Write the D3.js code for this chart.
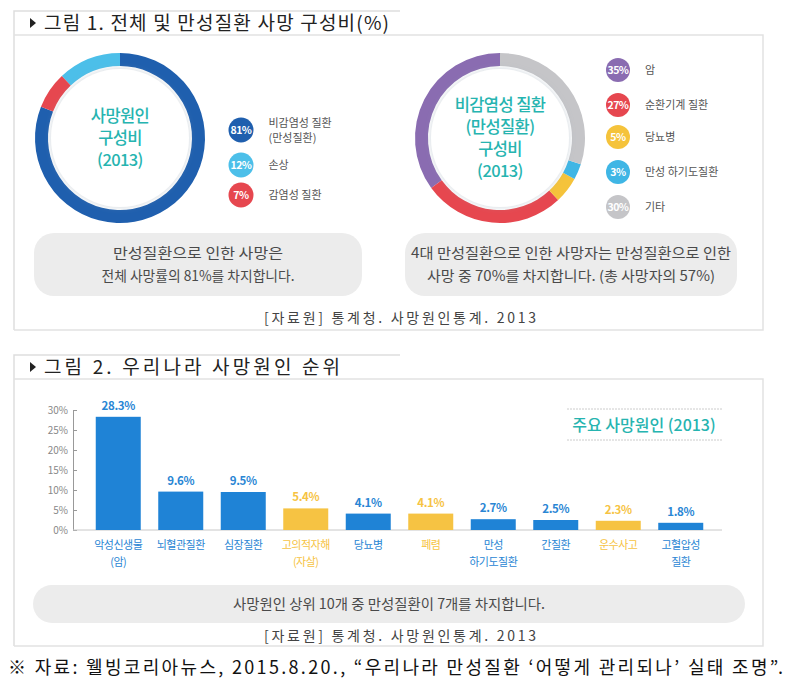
<!DOCTYPE html>
<html><head><meta charset="utf-8">
<script src="https://cdn.jsdelivr.net/npm/d3@7"></script>
<style>
body{margin:0;background:#fff;}
svg{display:block;font-family:"Noto Sans CJK KR","Noto Sans",sans-serif;}
</style></head>
<body><svg id="c" width="791" height="700"></svg>
<script>
// ---- data ----
const donut1Labels = [["비감염성 질환","(만성질환)"],["손상"],["감염성 질환"]];
const donut1Values = [81, 12, 7];
const donut1Colors = ["#1f5fae", "#4cbfe9", "#e6474f"];
const donut1DrawOrder = [0, 2, 1];
const donut1Center = ["사망원인","구성비","(2013)"];

const donut2Labels = [["암"],["순환기계 질환"],["당뇨병"],["만성 하기도질환"],["기타"]];
const donut2Values = [35, 27, 5, 3, 30];
const donut2Colors = ["#8a6cb1", "#e6474f", "#f5c33b", "#3fb6e5", "#c5c5c8"];
const donut2DrawOrder = [4, 3, 2, 1, 0];
const donut2Center = ["비감염성 질환","(만성질환)","구성비","(2013)"];

const barCategories = [["악성신생물","(암)"],["뇌혈관질환"],["심장질환"],["고의적자해","(자살)"],["당뇨병"],["폐렴"],["만성","하기도질환"],["간질환"],["운수사고"],["고혈압성","질환"]];
const barValues = [28.3, 9.6, 9.5, 5.4, 4.1, 4.1, 2.7, 2.5, 2.3, 1.8];
const barChronic = [true, true, true, false, true, false, true, true, false, true];
const yTicks = [0, 5, 10, 15, 20, 25, 30];

const svg = d3.select("#c");
const BLUE = "#1f83d6", YEL = "#f6c343", TEAL = "#26b4b0", GRAYTXT = "#555";

// shadow filter
const defs = svg.append("defs");
const f = defs.append("filter").attr("id","sh").attr("x","-30%").attr("y","-30%").attr("width","160%").attr("height","160%");
f.append("feGaussianBlur").attr("in","SourceAlpha").attr("stdDeviation",3).attr("result","b");
f.append("feFlood").attr("flood-color","#8fa0b0").attr("flood-opacity",0.45);
f.append("feComposite").attr("in2","b").attr("operator","in").attr("result","s");
const fm = f.append("feMerge"); fm.append("feMergeNode").attr("in","s"); fm.append("feMergeNode").attr("in","SourceGraphic");

// ---- frames ----
function frame(top, titleBottom, bottom, title, tw){
  const g = svg.append("g");
  g.append("path").attr("d",`M14,${bottom} L14,${top} L400,${top}`).attr("fill","none").attr("stroke","#dedede").attr("stroke-width",1.5);
  g.append("path").attr("d",`M14,${titleBottom} L763,${titleBottom} L763,${bottom} L14,${bottom}`).attr("fill","none").attr("stroke","#e2e2e2").attr("stroke-width",1.5);
  g.append("path").attr("d",`M30,${(top+titleBottom)/2-5} L36,${(top+titleBottom)/2} L30,${(top+titleBottom)/2+5}Z`).attr("fill","#222");
  g.append("text").attr("x",44).attr("y",(top+titleBottom)/2+7).attr("font-size",19).attr("fill","#222")
    .attr("textLength",tw).attr("lengthAdjust","spacing").text(title);
}
frame(11, 35, 330, "그림 1. 전체 및 만성질환 사망 구성비(%)", 345);
frame(355, 379, 646, "그림 2. 우리나라 사망원인 순위", 296);

// ---- donuts ----
function donut(cx, cy, values, colors, order, centerLines, lineGap){
  const g = svg.append("g").attr("transform",`translate(${cx},${cy})`);
  const pie = d3.pie().value(i=>values[i]).sort((a,b)=>order.indexOf(a)-order.indexOf(b));
  const arc = d3.arc().innerRadius(72).outerRadius(85);
  g.selectAll("path.s").data(pie(d3.range(values.length))).join("path").attr("class","s")
    .attr("d",arc).attr("fill",d=>colors[d.data]);
  g.append("circle").attr("r",69).attr("fill","#fff").attr("filter","url(#sh)");
  const n = centerLines.length;
  g.selectAll("text.c").data(centerLines).join("text").attr("class","c")
    .attr("text-anchor","middle").attr("y",(d,i)=>(i-(n-1)/2)*lineGap+6)
    .attr("font-size",16.5).attr("font-weight",500).attr("letter-spacing",-0.6).attr("fill",TEAL).text(d=>d);
}
donut(120, 138, donut1Values, donut1Colors, donut1DrawOrder, donut1Center, 22);
donut(500, 138, donut2Values, donut2Colors, donut2DrawOrder, donut2Center, 22);

function legend(x, ys, values, colors, labels, r){
  const g = svg.append("g");
  values.forEach((v,i)=>{
    g.append("circle").attr("cx",x).attr("cy",ys[i]).attr("r",r).attr("fill",colors[i]);
    g.append("text").attr("x",x).attr("y",ys[i]+4).attr("text-anchor","middle").attr("font-size",10.5)
      .attr("font-weight",700).attr("fill","#fff").attr("letter-spacing",-0.5).text(v+"%");
    const L = labels[i];
    L.forEach((t,j)=>{
      g.append("text").attr("x",x+r+15).attr("y",ys[i]+4+(j-(L.length-1)/2)*15)
        .attr("font-size",11).attr("fill",GRAYTXT).text(t);
    });
  });
}
legend(241, [130,165,195], donut1Values, donut1Colors, donut1Labels, 12.5);
legend(618, [70,105,137,172,207], donut2Values, donut2Colors, donut2Labels, 12);

// ---- gray message boxes ----
function msgBox(x, y, w, h, lines, widths, fs){
  svg.append("rect").attr("x",x).attr("y",y).attr("width",w).attr("height",h).attr("rx",Math.min(20,h/2)).attr("fill","#ececec");
  const n = lines.length;
  lines.forEach((t,i)=>{
    svg.append("text").attr("x",x+w/2).attr("y",y+h/2+5+(i-(n-1)/2)*23).attr("text-anchor","middle")
      .attr("font-size",fs).attr("fill","#4a4a4a").attr("textLength",widths[i]).attr("lengthAdjust","spacingAndGlyphs").text(t);
  });
}
msgBox(34, 233, 328, 63, ["만성질환으로 인한 사망은","전체 사망률의 81%를 차지합니다."], [170, 193], 14);
msgBox(405, 233, 332, 63, ["4대 만성질환으로 인한 사망자는 만성질환으로 인한","사망 중 70%를 차지합니다. (총 사망자의 57%)"], [320, 288], 14);
msgBox(33, 585, 712, 38, ["사망원인 상위 10개 중 만성질환이 7개를 차지합니다."], [312], 14);

function source(y){
  svg.append("text").attr("x",400).attr("y",y).attr("text-anchor","middle").attr("font-size",14)
    .attr("fill","#444").attr("textLength",272).attr("lengthAdjust","spacing").text("[자료원] 통계청. 사망원인통계. 2013");
}
source(323); source(641);

// ---- bar chart ----
const x = d3.scaleBand().domain(d3.range(barValues.length)).range([87, 712]).paddingInner(0.28).paddingOuter(0.14);
const y = d3.scaleLinear().domain([0, 30]).range([530, 410]);

const ax = svg.append("g").attr("transform","translate(73,0)")
  .call(d3.axisLeft(y).tickValues(yTicks).tickFormat(d=>d+"%").tickSizeInner(-4).tickSizeOuter(0).tickPadding(5));
ax.select(".domain").attr("stroke","#999");
ax.selectAll(".tick line").attr("stroke","#999");
ax.selectAll("text").attr("font-size",10).attr("fill","#888").attr("font-family","'Noto Sans CJK KR',sans-serif");

svg.append("line").attr("x1",73).attr("x2",722).attr("y1",y(0)).attr("y2",y(0)).attr("stroke","#c8c8c8");

const bars = svg.append("g");
bars.selectAll("rect").data(barValues).join("rect")
  .attr("x",(d,i)=>x(i)).attr("width",x.bandwidth()).attr("y",d=>y(d)).attr("height",d=>y(0)-y(d))
  .attr("fill",(d,i)=>barChronic[i]?BLUE:YEL);
bars.selectAll("text.v").data(barValues).join("text").attr("class","v")
  .attr("x",(d,i)=>x(i)+x.bandwidth()/2).attr("y",d=>y(d)-7).attr("text-anchor","middle")
  .attr("font-size",11.5).attr("font-weight",700).attr("letter-spacing",-0.3)
  .attr("fill",(d,i)=>barChronic[i]?"#2a86d4":YEL).text(d=>d.toFixed(1)+"%");
barCategories.forEach((L,i)=>{
  L.forEach((t,j)=>{
    svg.append("text").attr("x",x(i)+x.bandwidth()/2).attr("y",549+j*17).attr("text-anchor","middle")
      .attr("font-size",11).attr("letter-spacing",-0.5).attr("fill",barChronic[i]?"#2a86d4":YEL).text(t);
  });
});

// chart label
svg.append("line").attr("x1",567).attr("x2",722).attr("y1",409).attr("y2",409).attr("stroke","#ccc").attr("stroke-dasharray","2,1");
svg.append("line").attr("x1",567).attr("x2",722).attr("y1",440).attr("y2",440).attr("stroke","#ccc").attr("stroke-dasharray","2,1");
svg.append("text").attr("x",644).attr("y",431).attr("text-anchor","middle").attr("font-size",16).attr("font-weight",500)
  .attr("fill",TEAL).text("주요 사망원인 (2013)");

// footnote
svg.append("text").attr("x",8).attr("y",674).attr("font-size",18).attr("fill","#111")
  .attr("textLength",775).attr("lengthAdjust","spacing")
  .text("※ 자료: 웰빙코리아뉴스, 2015.8.20., “우리나라 만성질환 ‘어떻게 관리되나’ 실태 조명”.");
</script></body></html>
